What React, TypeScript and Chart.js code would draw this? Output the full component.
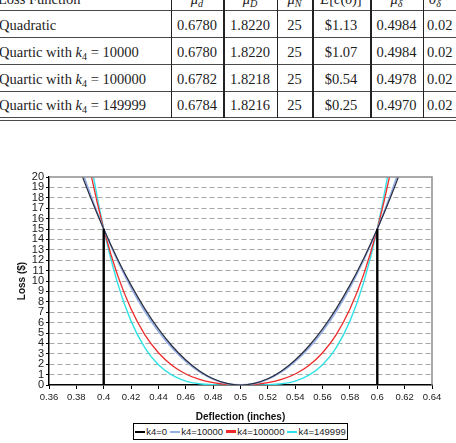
import React, { useEffect, useRef } from 'react';
import { Chart, registerables } from 'chart.js';

Chart.register(...registerables);

// Deflection grid (inches) and the loss ($) of each loss function at those deflections
const deflection = [
  0.37, 0.38, 0.39, 0.4, 0.41, 0.42, 0.43, 0.44, 0.45, 0.46, 0.47, 0.48, 0.49, 0.5,
  0.51, 0.52, 0.53, 0.54, 0.55, 0.56, 0.57, 0.58, 0.59, 0.6, 0.61, 0.62, 0.63,
];
const lossK0 = [
  25.35, 21.6, 18.15, 15, 12.15, 9.6, 7.35, 5.4, 3.75, 2.4, 1.35, 0.6, 0.15, 0,
  0.15, 0.6, 1.35, 2.4, 3.75, 5.4, 7.35, 9.6, 12.15, 15, 18.15, 21.6, 25.35,
];
const lossK10000 = [
  26.52, 22.23, 18.4, 15, 12.0, 9.37, 7.1, 5.17, 3.56, 2.27, 1.27, 0.56, 0.14, 0,
  0.14, 0.56, 1.27, 2.27, 3.56, 5.17, 7.1, 9.37, 12.0, 15, 18.4, 22.23, 26.52,
];
const lossK100000 = [
  37.01, 27.94, 20.69, 15, 10.61, 7.3, 4.85, 3.1, 1.88, 1.06, 0.53, 0.22, 0.05, 0,
  0.05, 0.22, 0.53, 1.06, 1.88, 3.1, 4.85, 7.3, 10.61, 15, 20.69, 27.94, 37.01,
];
const lossK149999 = [
  42.84, 31.1, 21.96, 15, 9.84, 6.14, 3.6, 1.94, 0.94, 0.38, 0.12, 0.02, 0, 0,
  0, 0.02, 0.12, 0.38, 0.94, 1.94, 3.6, 6.14, 9.84, 15, 21.96, 31.1, 42.84,
];
const seriesNames = ['k4=0', 'k4=10000', 'k4=100000', 'k4=149999'];
const seriesLoss = [lossK0, lossK10000, lossK100000, lossK149999];

// Specification limits and the loss at the limits
const specLimits = [0.4, 0.6];
const specLoss = 15;

// Axis ranges
const xRange = [0.36, 0.64];
const xStep = 0.02;
const yRange = [0, 20];
const yStep = 1;

// Summary table
const lossFunctionK4 = [null, '10000', '100000', '149999'];
const muSmallD = ['0.6780', '0.6780', '0.6782', '0.6784'];
const muBigD = ['1.8220', '1.8220', '1.8218', '1.8216'];
const muN = ['25', '25', '25', '25'];
const expectedLoss = ['$1.13', '$1.07', '$0.54', '$0.25'];
const muDelta = ['0.4984', '0.4984', '0.4978', '0.4970'];
const sigmaDelta = ['0.02', '0.02', '0.02', '0.02'];

const seriesColors = ['#2b2d3c', '#94aee6', '#ee2a2a', '#30e2e6'];
const seriesWidths = [1.2, 1.8, 1.3, 1.4];
const legendColors = ['#000000', '#94aee6', '#ee2a2a', '#30e2e6'];
const legendWidths = [2, 2, 3, 2];

const SANS = '"Liberation Sans", Arial, sans-serif';
const SERIF = '"Liberation Serif", "Times New Roman", serif';

const framePlugin = {
  id: 'plotFrame',
  afterDatasetsDraw(chart: any) {
    const { ctx, chartArea } = chart;
    const { left, top, right, bottom } = chartArea;
    ctx.save();
    ctx.strokeStyle = '#8e8e8e';
    ctx.lineWidth = 1.5;
    ctx.beginPath();
    ctx.moveTo(left, top);
    ctx.lineTo(right, top);
    ctx.lineTo(right, bottom);
    ctx.stroke();
    ctx.restore();
  },
};

function LossChart() {
  const ref = useRef<HTMLCanvasElement | null>(null);

  useEffect(() => {
    if (!ref.current) return;
    const curves = seriesLoss.map((loss, i) => ({
      label: seriesNames[i],
      data: deflection.map((x, j) => ({ x, y: loss[j] })),
      borderColor: seriesColors[i],
      borderWidth: seriesWidths[i],
      pointRadius: 0,
      fill: false,
      cubicInterpolationMode: 'monotone' as const,
    }));
    const limits = specLimits.map((x) => ({
      label: 'limit ' + x,
      data: [
        { x, y: 0 },
        { x, y: specLoss },
      ],
      borderColor: '#000000',
      borderWidth: 2.4,
      pointRadius: 0,
      fill: false,
    }));

    const chart = new Chart(ref.current, {
      type: 'line',
      data: { datasets: [...limits, ...curves] },
      plugins: [framePlugin],
      options: {
        animation: false,
        responsive: false,
        maintainAspectRatio: false,
        layout: { padding: { top: 12, right: 24, bottom: 0, left: 0 } },
        plugins: { legend: { display: false }, tooltip: { enabled: false } },
        scales: {
          x: {
            type: 'linear',
            min: xRange[0],
            max: xRange[1],
            ticks: {
              stepSize: xStep,
              autoSkip: false,
              maxRotation: 0,
              padding: 3,
              color: '#1a1a1a',
              font: { family: SANS, size: 9.5 },
              callback: (v: any) => String(parseFloat(Number(v).toFixed(2))),
            },
            grid: { drawOnChartArea: false, tickLength: 4, tickColor: '#000', tickWidth: 1 },
            border: { color: '#000', width: 1.5 },
            title: {
              display: true,
              text: 'Deflection (inches)',
              color: '#111',
              font: { family: SANS, size: 10, weight: 'bold' },
              padding: { top: 0, bottom: 1 },
            },
            afterFit: (s: any) => {
              s.height = 39;
            },
          },
          y: {
            min: yRange[0],
            max: yRange[1],
            ticks: {
              stepSize: yStep,
              autoSkip: false,
              padding: 2,
              color: '#1a1a1a',
              font: { family: SANS, size: 11 },
            },
            grid: {
              color: (c: any) =>
                c.tick && (c.tick.value === yRange[0] || c.tick.value === yRange[1])
                  ? 'rgba(0,0,0,0)'
                  : '#a8a8a8',
              lineWidth: 1,
              tickLength: 3,
              tickColor: '#000',
              tickWidth: 1,
            },
            border: { color: '#000', width: 1.5, dash: [5, 3] },
            title: {
              display: true,
              text: 'Loss ($)',
              color: '#111',
              font: { family: SANS, size: 10, weight: 'bold' },
              padding: { top: 16, bottom: 0 },
            },
            afterFit: (s: any) => {
              s.width = 49;
            },
          },
        },
      } as any,
    });
    return () => chart.destroy();
  }, []);

  return (
    <canvas
      ref={ref}
      width={456}
      height={259}
      style={{ position: 'absolute', left: 0, top: 165, width: 456, height: 259 }}
    />
  );
}

function Legend() {
  return (
    <div
      style={{
        position: 'absolute',
        left: 133,
        top: 423,
        width: 215,
        height: 17,
        boxSizing: 'border-box',
        border: '1px solid #000',
        display: 'flex',
        alignItems: 'center',
        justifyContent: 'center',
        gap: 3,
        fontFamily: SANS,
        fontSize: 9.5,
        color: '#1a1a1a',
        background: '#fff',
      }}
    >
      {seriesNames.map((name, i) => (
        <span key={name} style={{ display: 'flex', alignItems: 'center', whiteSpace: 'nowrap' }}>
          <span
            style={{
              display: 'inline-block',
              width: 10,
              height: legendWidths[i],
              background: legendColors[i],
              marginRight: 1,
            }}
          />
          {name}
        </span>
      ))}
    </div>
  );
}

const rowCenters = [-1.5, 25, 51.7, 78.5, 105.2];
const colCenters = [197, 250, 294.5, 341, 396.5];
const dividers = [
  { x: 171, w: 1 },
  { x: 222.5, w: 2 },
  { x: 277, w: 1 },
  { x: 311.5, w: 2 },
  { x: 369.5, w: 2 },
  { x: 423, w: 1 },
];
const rules = [
  { y: 9.5, h: 1.5 },
  { y: 37, h: 1 },
  { y: 64, h: 1 },
  { y: 90.7, h: 1 },
  { y: 117, h: 1 },
  { y: 119.5, h: 1.2 },
];

function Cell(props: { y: number; x: number; align: 'left' | 'center'; children: any }) {
  const w = 120;
  const left = props.align === 'center' ? props.x - w / 2 : props.x;
  return (
    <div
      style={{
        position: 'absolute',
        top: props.y - 10,
        left,
        width: w,
        height: 20,
        lineHeight: '20px',
        textAlign: props.align,
        whiteSpace: 'nowrap',
      }}
    >
      {props.children}
    </div>
  );
}

function Sub(props: { children: any }) {
  return <sub style={{ fontSize: '0.7em', verticalAlign: '-0.25em', lineHeight: 0 }}>{props.children}</sub>;
}

function SummaryTable() {
  const headers = [
    <>
      <i>μ</i>
      <Sub>
        <i>d</i>
      </Sub>
    </>,
    <>
      <i>μ</i>
      <Sub>
        <i>D</i>
      </Sub>
    </>,
    <>
      <i>μ</i>
      <Sub>
        <i>N</i>
      </Sub>
    </>,
    <>
      <i>E</i>[<i>c</i>(<i>δ</i>)]
    </>,
    <>
      <i>μ</i>
      <Sub>
        <i>δ</i>
      </Sub>
    </>,
  ];
  const columns = [muSmallD, muBigD, muN, expectedLoss, muDelta];
  return (
    <div
      style={{
        position: 'absolute',
        left: 0,
        top: 0,
        width: 456,
        height: 125,
        overflow: 'hidden',
        fontFamily: SERIF,
        fontSize: 14.5,
        color: '#1c1c1c',
      }}
    >
      {rules.map((r, i) => (
        <div
          key={'r' + i}
          style={{ position: 'absolute', left: 0, top: r.y, width: 456, height: r.h, background: '#4a4a4a' }}
        />
      ))}
      {dividers.map((d, i) => (
        <div
          key={'d' + i}
          style={{ position: 'absolute', left: d.x, top: 0, width: d.w, height: 118, background: '#222' }}
        />
      ))}
      <Cell y={rowCenters[0]} x={-2} align="left">
        Loss Function
      </Cell>
      {headers.map((h, i) => (
        <Cell key={'h' + i} y={rowCenters[0]} x={colCenters[i]} align="center">
          {h}
        </Cell>
      ))}
      <Cell y={rowCenters[0]} x={429} align="left">
        <i>σ</i>
        <Sub>
          <i>δ</i>
        </Sub>
      </Cell>
      {lossFunctionK4.map((k4, r) => (
        <React.Fragment key={'row' + r}>
          <Cell y={rowCenters[r + 1]} x={-1} align="left">
            {k4 === null ? (
              'Quadratic'
            ) : (
              <>
                Quartic with <i>k</i>
                <Sub>4</Sub> = {k4}
              </>
            )}
          </Cell>
          {columns.map((col, c) => (
            <Cell key={'c' + c} y={rowCenters[r + 1]} x={colCenters[c]} align="center">
              {col[r]}
            </Cell>
          ))}
          <Cell y={rowCenters[r + 1]} x={427} align="left">
            {sigmaDelta[r]}
          </Cell>
        </React.Fragment>
      ))}
    </div>
  );
}

export default function App() {
  return (
    <div
      style={{
        position: 'fixed',
        left: 0,
        top: 0,
        width: 456,
        height: 443,
        overflow: 'hidden',
        background: '#fff',
      }}
    >
      <SummaryTable />
      <LossChart />
      <Legend />
    </div>
  );
}
